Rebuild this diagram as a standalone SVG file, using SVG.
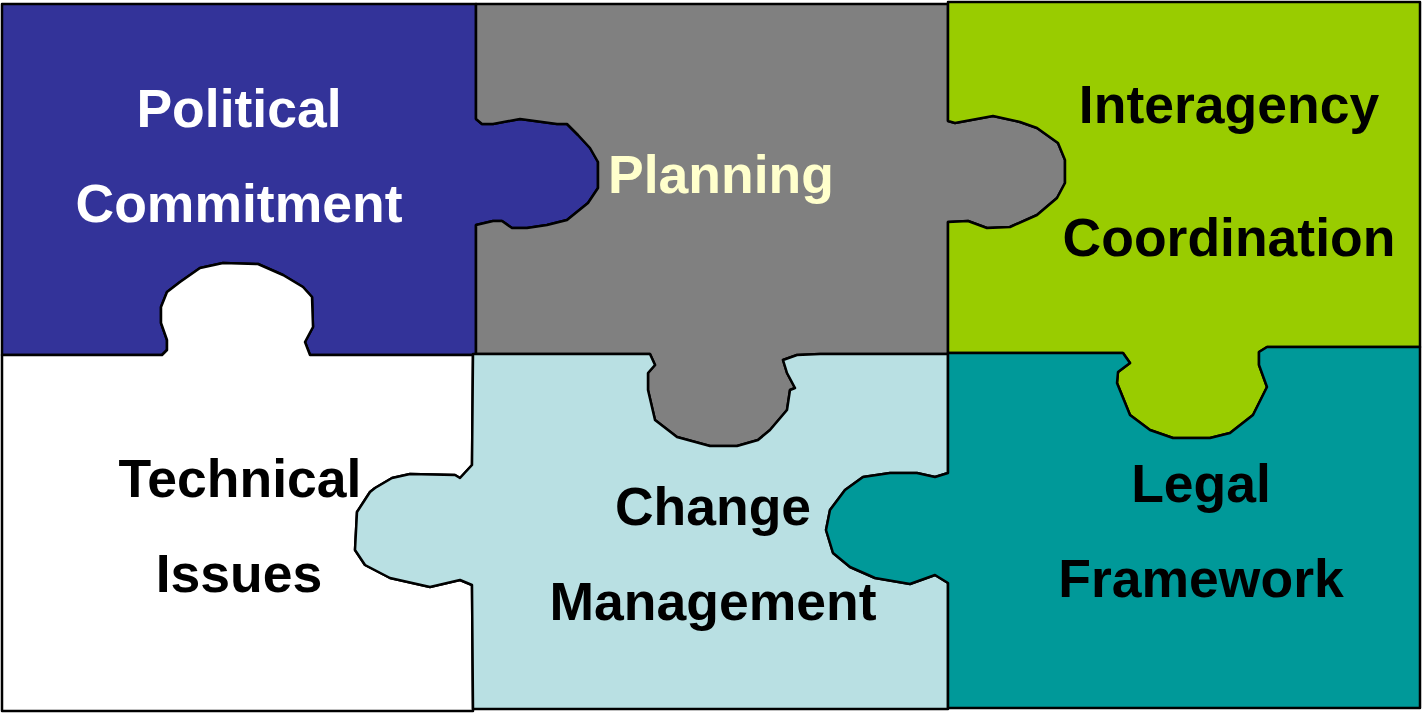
<svg xmlns="http://www.w3.org/2000/svg" width="1422" height="713" viewBox="0 0 1422 713">
<style>
.pc{stroke:#000;stroke-width:2.5;stroke-linejoin:round}
.t{font-family:"Liberation Sans",Arial,sans-serif;font-weight:bold;font-size:53.5px;text-anchor:middle}
</style>
<rect width="1422" height="713" fill="#fff"/>
<g id="political">
<path class="pc" fill="#333399" d="M2,4 L476,4 L476,119 L482,124 L493,124 L520,119 L557,124 L567,124 L578,135 L590,148 L598,162 L598,188 L588,203 L567,220 L547,225 L527,228 L512,228 L502,221 L493,221 L476,225 L476,355 L330,355 L310,355 L305,342 L313,327 L312,297 L303,287 L283,275 L258,264 L223,263 L200,268 L180,282 L167,292 L161,307 L161,323 L167,340 L167,350 L162,355 L2,355 Z"/>
<text class="t" x="239" y="127" fill="#fff">Political</text>
<text class="t" x="239" y="222" fill="#fff">Commitment</text>
</g>
<g id="planning">
<path class="pc" fill="#808080" d="M476,4 L948,4 L948,121 L955,123 L993,116 L1020,122 L1037,128 L1058,143 L1065,160 L1065,183 L1057,198 L1037,215 L1010,227 L987,228 L968,221 L948,222 L948,354 L820,354 L797,355 L783,360 L787,373 L795,388 L790,390 L787,410 L770,430 L758,440 L737,446 L710,446 L677,437 L655,420 L648,390 L648,373 L655,365 L650,354 L476,354 L476,225 L493,221 L502,221 L512,228 L527,228 L547,225 L567,220 L588,203 L598,188 L598,162 L590,148 L578,135 L567,124 L557,124 L520,119 L493,124 L482,124 L476,119 Z"/>
<text class="t" x="721" y="193" fill="#ffffcc">Planning</text>
</g>
<g id="interagency">
<path class="pc" fill="#99cc00" d="M948,2 L1420,2 L1420,347 L1267,347 L1259,352 L1259,365 L1267,387 L1253,415 L1230,433 L1210,438 L1173,438 L1150,430 L1130,415 L1117,383 L1118,372 L1130,363 L1123,353 L948,353 L948,222 L968,221 L987,228 L1010,227 L1037,215 L1057,198 L1065,183 L1065,160 L1058,143 L1037,128 L1020,122 L993,116 L955,123 L948,121 Z"/>
<text class="t" x="1229" y="123" fill="#000">Interagency</text>
<text class="t" x="1229" y="256" fill="#000">Coordination</text>
</g>
<g id="technical">
<path class="pc" fill="#fff" d="M2,355 L162,355 L167,350 L167,340 L161,323 L161,307 L167,292 L180,282 L200,268 L223,263 L258,264 L283,275 L303,287 L312,297 L313,327 L305,342 L310,355 L473,355 L472,465 L460,478 L455,475 L410,474 L392,478 L375,488 L370,492 L357,512 L355,550 L365,565 L390,578 L430,587 L460,580 L472,585 L473,711 L2,711 Z"/>
<text class="t" x="240" y="497" fill="#000">Technical</text>
<text class="t" x="239" y="592" fill="#000">Issues</text>
</g>
<g id="change">
<path class="pc" fill="#b9e0e3" d="M473,354 L650,354 L655,365 L648,373 L648,390 L655,420 L677,437 L710,446 L737,446 L758,440 L770,430 L787,410 L790,390 L795,388 L787,373 L783,360 L797,355 L820,354 L948,354 L948,473 L935,477 L917,473 L890,473 L863,477 L845,490 L830,510 L826,530 L833,553 L850,567 L875,578 L910,584 L935,575 L948,583 L948,709 L473,709 L472,585 L460,580 L430,587 L390,578 L365,565 L355,550 L357,512 L370,492 L375,488 L392,478 L410,474 L455,475 L460,478 L472,465 Z"/>
<text class="t" x="713" y="525" fill="#000">Change</text>
<text class="t" x="713" y="620" fill="#000">Management</text>
</g>
<g id="legal">
<path class="pc" fill="#009999" d="M948,353 L1123,353 L1130,363 L1118,372 L1117,383 L1130,415 L1150,430 L1173,438 L1210,438 L1230,433 L1253,415 L1267,387 L1259,365 L1259,352 L1267,347 L1420,347 L1420,708 L948,708 L948,583 L935,575 L910,584 L875,578 L850,567 L833,553 L826,530 L830,510 L845,490 L863,477 L890,473 L917,473 L935,477 L948,473 Z"/>
<text class="t" x="1201" y="502" fill="#000">Legal</text>
<text class="t" x="1201" y="597" fill="#000">Framework</text>
</g>
<g id="connectors"/>
</svg>
